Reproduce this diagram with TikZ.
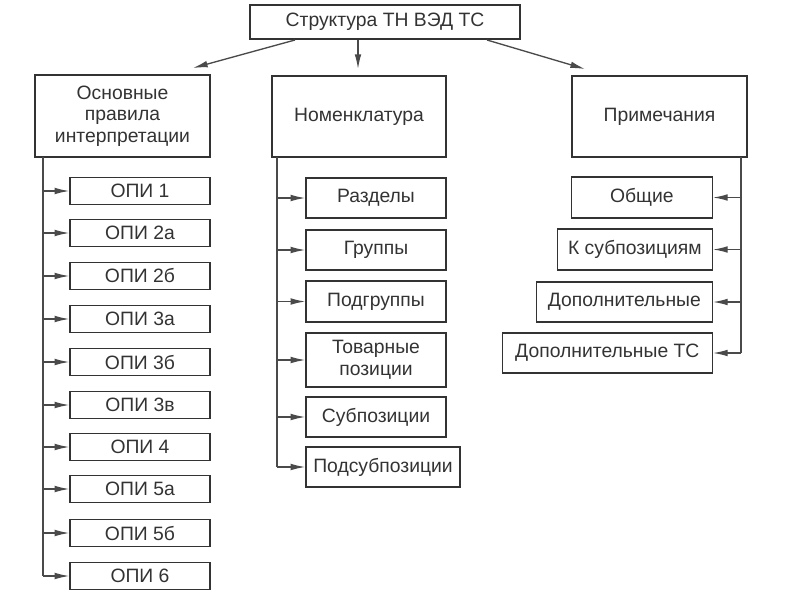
\documentclass[tikz,border=0pt]{standalone}
\usepackage{fontspec}
\setmainfont{Liberation Sans}
\usetikzlibrary{arrows.meta}
\definecolor{ink}{HTML}{333333}
\definecolor{wire}{HTML}{4A4A4A}
\begin{document}
\begin{tikzpicture}[x=0.75pt,y=-0.75pt,
    >={Latex[length=11pt,width=5pt]},
    box/.style={draw=ink,line width=1pt,inner sep=0pt,text=ink,align=center,
      font=\fontsize{14.5}{16.3}\selectfont},
    arr/.style={draw=wire,line width=1pt,->},
    ln/.style={draw=wire,line width=1pt}]
    \useasboundingbox (0,0) rectangle (800,600);
    % head
    \node [box,minimum width=270*0.75pt,minimum height=34*0.75pt] (head) at (385,22) {Структура ТН ВЭД ТС};
    % three main boxes
    \node [box,minimum width=175*0.75pt,minimum height=82*0.75pt] (rules) at (122.5,116) {Основные\\правила\\интерпретации};
    \node [box,minimum width=174*0.75pt,minimum height=81*0.75pt] (nomen) at (359,116.5) {Номенклатура};
    \node [box,minimum width=175*0.75pt,minimum height=81*0.75pt] (notes) at (659.5,116.5) {Примечания};
    \coordinate (hl) at (295,40);
    \coordinate (hr) at (487,40);
    \coordinate (rt) at (193,68);
    \coordinate (nt) at (358,69);
    \coordinate (pt) at (585,69);
    \draw [arr] (hl) -- (rt);
    \draw [arr] (head.south -| nt) -- (nt);
    \draw [arr] (hr) -- (pt);
    % left column
    \foreach \n/\t/\y in {1/ОПИ 1/191, 2/ОПИ 2а/233, 3/ОПИ 2б/276, 4/ОПИ 3а/319, 5/ОПИ 3б/362,
        6/ОПИ 3в/405, 7/ОПИ 4/447, 8/ОПИ 5а/489, 9/ОПИ 5б/533, 10/ОПИ 6/576}
      \node [box,minimum width=140*0.75pt,minimum height=27*0.75pt] (opi\n) at (140,\y) {\t};
    \coordinate (lt) at (43,157);
    \draw [ln] (lt) -- (lt |- opi10);
    \foreach \n in {1,...,10}
      \draw [arr] (lt |- opi\n) -- (opi\n.west);
    % middle column
    \node [box,minimum width=140*0.75pt,minimum height=40*0.75pt] (sect) at (376,198) {Разделы};
    \node [box,minimum width=140*0.75pt,minimum height=40*0.75pt] (grp) at (376,250) {Группы};
    \node [box,minimum width=140*0.75pt,minimum height=41*0.75pt] (subgrp) at (376,301.5) {Подгруппы};
    \node [box,minimum width=140*0.75pt,minimum height=54*0.75pt] (pos) at (376,360) {Товарные\\позиции};
    \node [box,minimum width=140*0.75pt,minimum height=40*0.75pt] (subpos) at (376,417) {Субпозиции};
    \node [box,minimum width=154*0.75pt,minimum height=40*0.75pt] (subsub) at (383,467) {Подсубпозиции};
    \coordinate (mt) at (277,157);
    \draw [ln] (mt) -- (mt |- subsub);
    \foreach \b in {sect,grp,subgrp,pos,subpos,subsub}
      \draw [arr] (mt |- \b) -- (\b.west);
    % right column
    \node [box,anchor=east,minimum width=141*0.75pt,minimum height=41*0.75pt] (gen) at (713,197.5) {Общие};
    \node [box,anchor=east,minimum width=155*0.75pt,minimum height=41*0.75pt] (tosub) at (713,249.5) {К субпозициям};
    \node [box,anchor=east,minimum width=176*0.75pt,minimum height=40*0.75pt] (add) at (713,302) {Дополнительные};
    \node [box,anchor=east,minimum width=210*0.75pt,minimum height=40*0.75pt] (addts) at (713,353) {Дополнительные ТС};
    \coordinate (pr) at (741,157);
    \draw [ln] (pr) -- (pr |- addts);
    \foreach \b in {gen,tosub,add,addts}
      \draw [arr] (pr |- \b) -- (\b.east);
\end{tikzpicture}
\end{document}
